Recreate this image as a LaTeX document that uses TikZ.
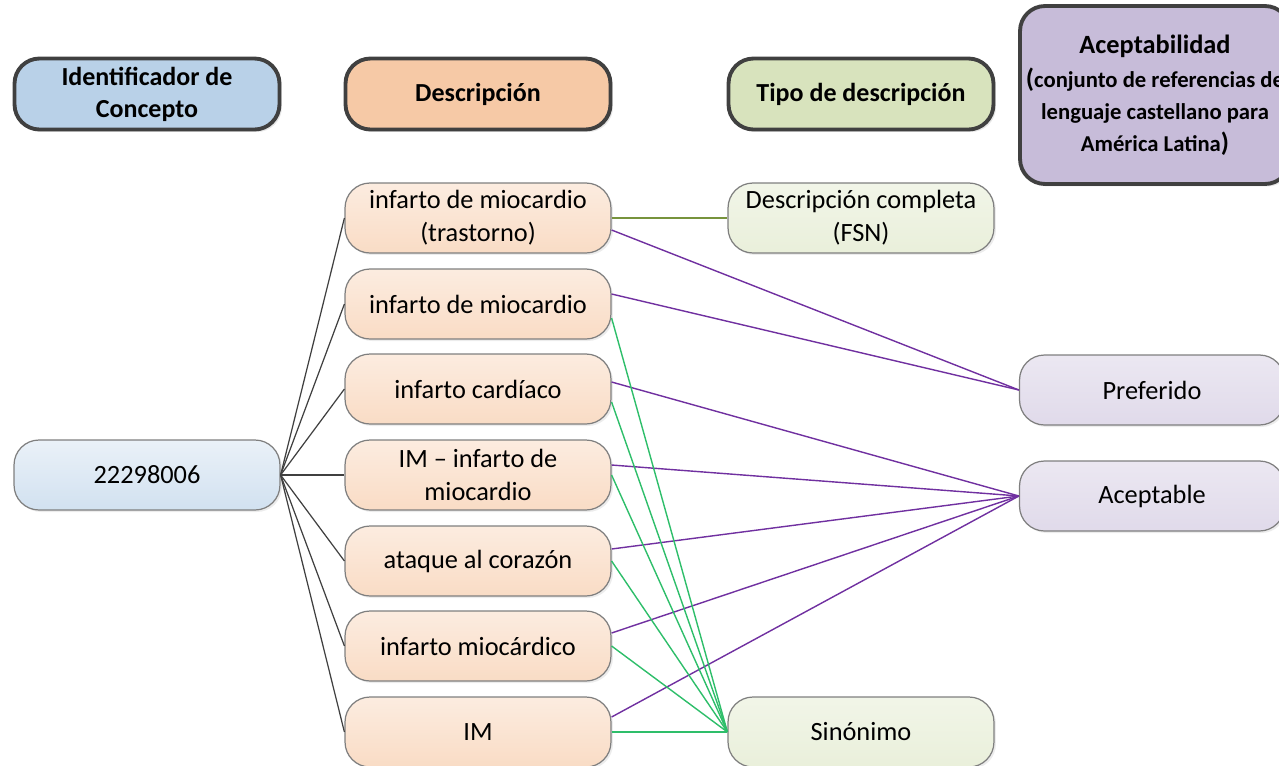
\documentclass[tikz,border=0pt]{standalone}
\usepackage{fontspec}
\setmainfont{Carlito}
\usetikzlibrary{shadows}
% Farben
\definecolor{randdunkel}{HTML}{404040}
\definecolor{randhell}{HTML}{7F7F7F}
\definecolor{kopfblau}{HTML}{B9D1E8}
\definecolor{kopforange}{HTML}{F6C9A6}
\definecolor{kopfgruen}{HTML}{D8E3BD}
\definecolor{kopflila}{HTML}{C7BCD9}
\definecolor{linieoliv}{HTML}{77933C}
\definecolor{linielila}{HTML}{7030A0}
\definecolor{liniegruen}{HTML}{2EBE6A}
\tikzset{
  cabecera/.style={draw=randdunkel, line width=2.2pt, rounded corners=0.5cm,
    minimum width=5.3cm, minimum height=1.42cm, align=center, inner ysep=1pt,
    font=\bfseries\fontsize{14.8}{18.2}\selectfont,
    drop shadow={opacity=0.2, shadow xshift=0.05cm, shadow yshift=-0.05cm}},
  caja/.style={draw=randhell, line width=0.7pt, rounded corners=0.5cm,
    minimum width=5.32cm, minimum height=1.4cm, align=center, inner ysep=1pt,
    font=\fontsize{15}{18.8}\selectfont,
    drop shadow={opacity=0.15, shadow xshift=0.04cm, shadow yshift=-0.04cm}},
  cajaazul/.style={caja, top color=white!70!kopfblau, bottom color=white!35!kopfblau},
  cajanaranja/.style={caja, top color=white!65!kopforange, bottom color=white!35!kopforange},
  cajaverde/.style={caja, top color=white!65!kopfgruen, bottom color=white!45!kopfgruen},
  cajalila/.style={caja, top color=white!65!kopflila, bottom color=white!45!kopflila},
  conc/.style={draw=randdunkel, line width=0.7pt},
  tipo/.style={draw=linieoliv, line width=0.8pt},
  pref/.style={draw=linielila, line width=0.8pt},
  sino/.style={draw=liniegruen, line width=0.8pt},
}
\newcommand{\chico}{\fontsize{12.9}{15.5}\selectfont}
\newcommand{\parbig}[1]{{\fontsize{15}{15.5}\selectfont#1}}
\begin{document}
\begin{tikzpicture}[x=0.02cm,y=-0.02cm]
\useasboundingbox (0,0) rectangle (1279,765);
\clip (0,0) rectangle (1279,765);
% Kopfzeile
\node[cabecera, fill=kopfblau]   (hcon) at (147,94)  {Identificador de\\Concepto};
\node[cabecera, fill=kopforange] (hdes) at (478,94)  {Descripción};
\node[cabecera, fill=kopfgruen]  (htip) at (861,94)  {Tipo de descripción};
\node[cabecera, fill=kopflila, minimum width=5.4cm, minimum height=3.56cm]
  (hace) at (1155,95) {{\fontsize{15}{17}\selectfont Aceptabilidad}\\[1pt]
  \chico\parbig{(}conjunto de referencias de\\
  \chico lenguaje castellano para\\
  \chico América Latina\parbig{)}};
% Knoten
\node[cajaazul] (con) at (147,475) {22298006};
\node[cajanaranja] (d1) at (478,218) {infarto de miocardio\\(trastorno)};
\node[cajanaranja] (d2) at (478,304) {infarto de miocardio};
\node[cajanaranja] (d3) at (478,389) {infarto cardíaco};
\node[cajanaranja] (d4) at (478,475) {IM – infarto de\\miocardio};
\node[cajanaranja] (d5) at (478,561) {ataque al corazón};
\node[cajanaranja] (d6) at (478,646) {infarto miocárdico};
\node[cajanaranja] (d7) at (478,732) {IM};
\node[cajaverde] (fsn) at (861,218) {Descripción completa\\(FSN)};
\node[cajaverde] (sin) at (861,732) {Sinónimo};
\node[cajalila, minimum width=5.3cm] (pre) at (1152,390) {Preferido};
\node[cajalila, minimum width=5.3cm] (ace) at (1152,496) {Aceptable};
% Linien
\foreach \d in {d1,d2,d3,d4,d5,d6,d7}
  \draw[conc] (con.east) -- (\d.west);
\draw[tipo] (d1.east) -- (fsn.west);
\draw[pref] ([yshift=-0.24cm]d1.east) -- (pre.west);
\draw[pref] ([yshift=0.2cm]d2.east) -- (pre.west);
\draw[pref] ([yshift=0.14cm]d3.east) -- (ace.west);
\draw[pref] ([yshift=0.2cm]d4.east) -- (ace.west);
\draw[pref] ([yshift=0.24cm]d5.east) -- (ace.west);
\draw[pref] ([yshift=0.26cm]d6.east) -- (ace.west);
\draw[pref] ([yshift=0.3cm]d7.east) -- (ace.west);
\draw[sino] ([yshift=-0.28cm]d2.east) -- (sin.west);
\draw[sino] ([yshift=-0.26cm]d3.east) -- (sin.west);
\foreach \d in {d4,d5,d6,d7}
  \draw[sino] (\d.east) -- (sin.west);
\end{tikzpicture}
\end{document}
